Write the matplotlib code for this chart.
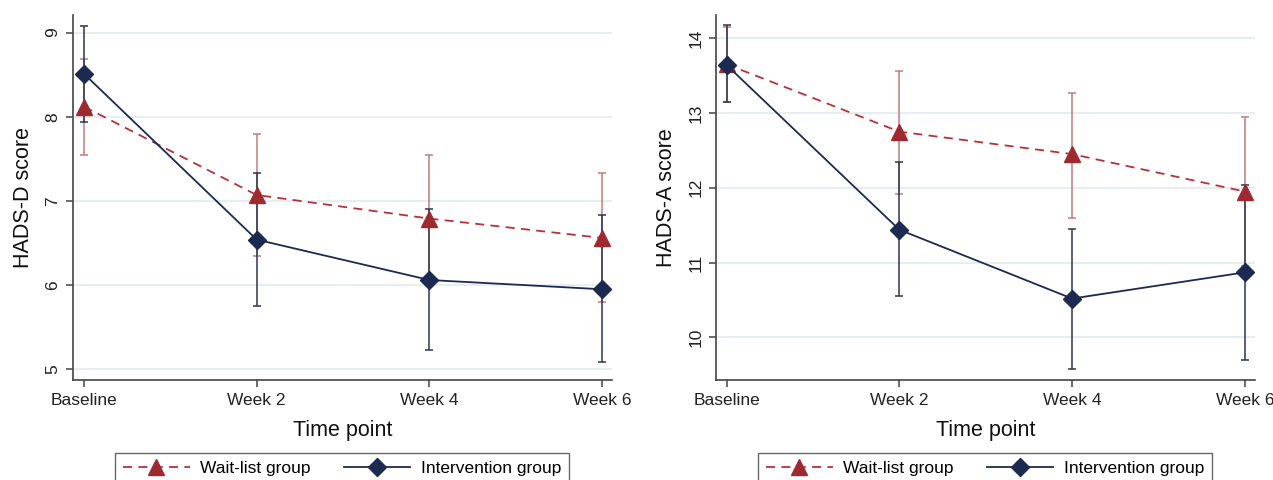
import numpy as np
import matplotlib
matplotlib.use("Agg")
from matplotlib import pyplot as plt

plt.rcParams['font.family'] = ['Liberation Sans', 'DejaVu Sans']

# time points
time_labels = ["Baseline", "Week 2", "Week 4", "Week 6"]

# HADS-D (left panel)
hadsd_wait = [8.12, 7.07, 6.79, 6.56]
hadsd_wait_lo = [7.54, 6.35, 6.05, 5.80]
hadsd_wait_hi = [8.68, 7.80, 7.54, 7.33]
hadsd_int = [8.51, 6.54, 6.06, 5.95]
hadsd_int_lo = [7.94, 5.75, 5.23, 5.08]
hadsd_int_hi = [9.08, 7.33, 6.90, 6.83]

# HADS-A (right panel)
hadsa_wait = [13.65, 12.75, 12.45, 11.95]
hadsa_wait_lo = [13.15, 11.92, 11.59, 10.96]
hadsa_wait_hi = [14.15, 13.56, 13.26, 12.94]
hadsa_int = [13.64, 11.44, 10.52, 10.87]
hadsa_int_lo = [13.14, 10.55, 9.58, 9.70]
hadsa_int_hi = [14.17, 12.34, 11.45, 12.04]

RED = '#9e2a30'
RED_LINE = '#b8303a'
RED_ERR = '#c27a7c'
NAVY = '#1c2a52'
NAVY_ERR = '#2b3656'
GRID = '#e6eef1'


def panel(ax, wait, wlo, whi, inter, ilo, ihi, yticks, ylim, xlim, ylabel):
    x = np.arange(len(time_labels))
    w = np.array(wait); i = np.array(inter)
    ax.errorbar(x, w, yerr=[w - np.array(wlo), np.array(whi) - w], fmt='none',
                ecolor=RED_ERR, elinewidth=1.1, capsize=3.2, capthick=1.1, zorder=2)
    ax.errorbar(x, i, yerr=[i - np.array(ilo), np.array(ihi) - i], fmt='none',
                ecolor=NAVY_ERR, elinewidth=1.1, capsize=3.2, capthick=1.1, zorder=3)
    l1, = ax.plot(x, w, color=RED_LINE, ls=(0, (5, 3.5)), lw=1.3, marker='^',
                  ms=12, mfc=RED, mec=RED, zorder=4, label='Wait-list group')
    l2, = ax.plot(x, i, color=NAVY, lw=1.3, marker='D', ms=9.5,
                  mfc=NAVY, mec=NAVY, zorder=5, label='Intervention group')
    ax.set_xticks(x)
    ax.set_xticklabels(time_labels, fontsize=12.5, color='#222222')
    ax.set_yticks(yticks)
    ax.set_yticklabels([str(t) for t in yticks], rotation=90, va='center',
                       fontsize=12.5, color='#222222')
    ax.set_ylim(ylim)
    ax.set_xlim(xlim)
    ax.grid(axis='y', color=GRID, lw=1.5)
    ax.set_axisbelow(True)
    for s in ['top', 'right']:
        ax.spines[s].set_visible(False)
    for s in ['left', 'bottom']:
        ax.spines[s].set_color('#444444')
        ax.spines[s].set_linewidth(1.2)
    ax.tick_params(length=5, width=1.1, color='#444444', pad=4)
    ax.set_xlabel('Time point', fontsize=15.5, labelpad=9, color='#111111')
    ax.set_ylabel(ylabel, fontsize=15.5, labelpad=8, color='#111111')
    return l1, l2


fig = plt.figure(figsize=(12.73, 4.8), dpi=100)
ax1 = fig.add_axes([0.0573, 0.208, 0.4237, 0.761])
ax2 = fig.add_axes([0.5625, 0.208, 0.4235, 0.761])

h1 = panel(ax1, hadsd_wait, hadsd_wait_lo, hadsd_wait_hi,
           hadsd_int, hadsd_int_lo, hadsd_int_hi,
           [5, 6, 7, 8, 9], (4.87, 9.21), (-0.064, 3.06), 'HADS-D score')
h2 = panel(ax2, hadsa_wait, hadsa_wait_lo, hadsa_wait_hi,
           hadsa_int, hadsa_int_lo, hadsa_int_hi,
           [10, 11, 12, 13, 14], (9.43, 14.31), (-0.061, 3.06), 'HADS-A score')

for ax, h, xc in [(ax1, h1, 342 / 1273), (ax2, h2, 985 / 1273)]:
    leg = fig.legend(h, [l.get_label() for l in h], loc='upper center',
                     bbox_to_anchor=(xc, 1 - 453 / 480), ncol=2, fontsize=12.5,
                     frameon=True, fancybox=False, edgecolor='#444444',
                     handlelength=3.85, columnspacing=1.9, borderpad=0.45,
                     borderaxespad=0, handletextpad=0.6)
    leg.get_frame().set_linewidth(1.0)

fig.savefig('out.png', dpi=100)
